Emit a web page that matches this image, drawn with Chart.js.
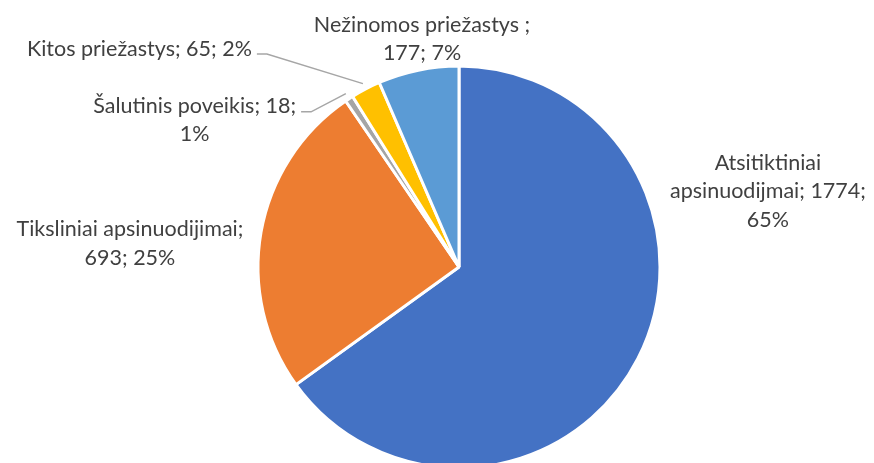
<!DOCTYPE html>
<html>
<head>
<meta charset="utf-8">
<script src="https://cdn.jsdelivr.net/npm/chart.js@4.4.0/dist/chart.umd.min.js"></script>
<style>
  html, body { margin: 0; padding: 0; background: #ffffff; }
  #wrap { width: 874px; height: 463px; }
</style>
</head>
<body>
<div id="wrap"><canvas id="c" width="874" height="463"></canvas></div>
<script>
// ---- data ----
const categories = [
  "Atsitiktiniai apsinuodijmai",
  "Tiksliniai apsinuodijimai",
  "Šalutinis poveikis",
  "Kitos priežastys",
  "Nežinomos priežastys "
];
const counts = [1774, 693, 18, 65, 177];
const percents = [65, 25, 1, 2, 7];
const colors = ["#4472C4", "#ED7D31", "#A5A5A5", "#FFC000", "#5B9BD5"];

const FONT_SIZE = 21.5;
const FONT = FONT_SIZE + "px Lato, 'Open Sans', sans-serif";
const LINE_H = 28.5;

// label placement, relative to pie centre, in units of radius (dx, dy = centre of text block)
const labelPlacement = [
  { dx: 1.537, dy: -0.376, breaks: [1, 3], leader: false },
  { dx: -1.637, dy: -0.117, breaks: [2], leader: false },
  { dx: -1.315, dy: -0.731, breaks: [3], leader: true, lineY: -0.772 },
  { dx: -1.59, dy: -1.085, breaks: [], leader: true, lineY: -1.06 },
  { dx: -0.184, dy: -1.134, breaks: [3], leader: false }
];

function splitLines(text, breaks) {
  const words = text.split(" ");
  const lines = [];
  let startIdx = 0;
  breaks.concat([words.length]).forEach(b => {
    lines.push(words.slice(startIdx, b).join(" "));
    startIdx = b;
  });
  return lines;
}

const labelPlugin = {
  id: "pieLabels",
  afterDatasetsDraw(chart) {
    const ctx = chart.ctx;
    const meta = chart.getDatasetMeta(0);
    ctx.save();
    ctx.font = FONT;
    ctx.fillStyle = "#404040";
    ctx.textAlign = "center";
    ctx.textBaseline = "middle";
    meta.data.forEach((arc, i) => {
      const p = labelPlacement[i];
      const R = arc.outerRadius;
      const cx = arc.x + p.dx * R;
      const cy = arc.y + p.dy * R;
      const text = categories[i] + "; " + counts[i] + "; " + percents[i] + "%";
      const lines = splitLines(text, p.breaks);
      const top = cy - (lines.length - 1) * LINE_H / 2;
      lines.forEach((ln, k) => {
        ctx.fillText(ln, cx, top + k * LINE_H);
      });
      if (p.leader) {
        const mid = (arc.startAngle + arc.endAngle) / 2;
        const ex = arc.x + Math.cos(mid) * (R + 6);
        const ey = arc.y + Math.sin(mid) * (R + 6);
        const firstW = ctx.measureText(lines[0]).width;
        const sx = cx + firstW / 2 + 5;
        const sy = arc.y + p.lineY * R;
        ctx.beginPath();
        ctx.strokeStyle = "#A6A6A6";
        ctx.lineWidth = 1.5;
        ctx.moveTo(sx, sy);
        ctx.lineTo(sx + 10, sy);
        ctx.lineTo(ex, ey);
        ctx.stroke();
      }
    });
    ctx.restore();
  }
};

new Chart(document.getElementById("c"), {
  type: "pie",
  data: {
    labels: categories,
    datasets: [{
      data: counts,
      backgroundColor: colors,
      borderColor: "#ffffff",
      borderWidth: 3,
      radius: 201
    }]
  },
  options: {
    responsive: false,
    animation: false,
    layout: { padding: { left: 44, right: 0, top: 71, bottom: 0 } },
    plugins: { legend: { display: false }, tooltip: { enabled: false } }
  },
  plugins: [labelPlugin]
});
</script>
</body>
</html>
